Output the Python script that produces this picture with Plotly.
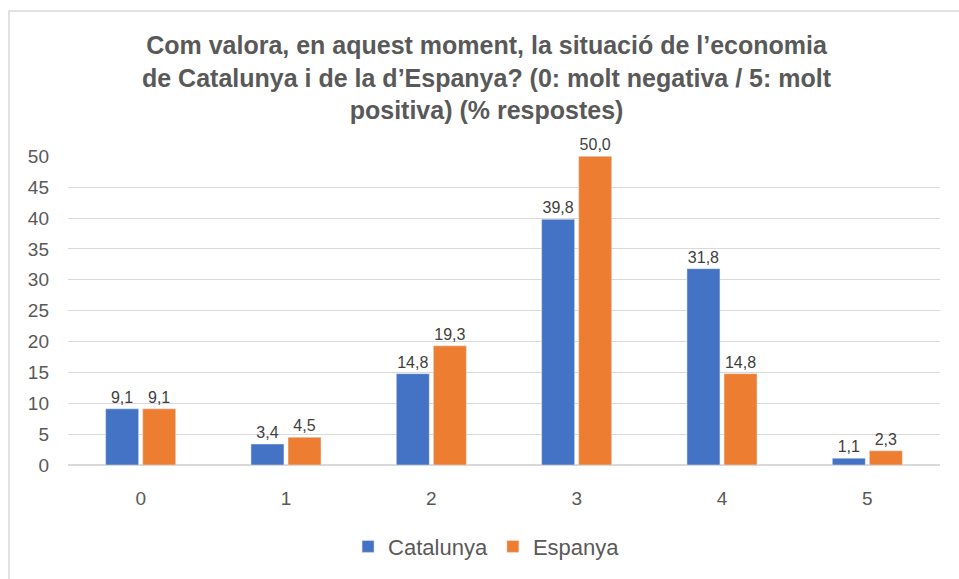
import plotly.graph_objects as go

categories = ["0", "1", "2", "3", "4", "5"]
catalunya = [9.1, 3.4, 14.8, 39.8, 31.8, 1.1]
espanya = [9.1, 4.5, 19.3, 50.0, 14.8, 2.3]
y_ticks = [0, 5, 10, 15, 20, 25, 30, 35, 40, 45, 50]

title = ("<b>Com valora, en aquest moment, la situació de l’economia<br>"
         "de Catalunya i de la d’Espanya? (0: molt negativa / 5: molt<br>"
         "positiva) (% respostes)</b>")

fig = go.Figure()
fig.add_trace(go.Bar(x=categories, y=catalunya, name="Catalunya",
                     marker_color="#4472C4", texttemplate="%{y:.1f}",
                     textposition="outside", cliponaxis=False,
                     textfont=dict(size=16, color="#404040")))
fig.add_trace(go.Bar(x=categories, y=espanya, name="Espanya",
                     marker_color="#ED7D31", texttemplate="%{y:.1f}",
                     textposition="outside", cliponaxis=False,
                     textfont=dict(size=16, color="#404040")))

fig.update_layout(
    width=959, height=579,
    margin=dict(l=68, r=19, t=156, b=112),
    paper_bgcolor="white", plot_bgcolor="white",
    font=dict(family="Liberation Sans, Arial, sans-serif", color="#595959"),
    separators=",.",
    barmode="group", bargap=0.49, bargroupgap=0.11,
    legend=dict(orientation="h", x=0.48, xanchor="center", y=-0.264, yanchor="middle",
                font=dict(size=22, color="#595959"), itemwidth=30),
    showlegend=True,
    shapes=[dict(type="rect", xref="paper", yref="paper",
                 x0=-0.0677, x1=1.03, y0=-0.38, y1=1.469,
                 line=dict(color="#D9D9D9", width=1.5))],
    annotations=[dict(text=title, xref="paper", yref="paper", x=0.4805, y=1.254,
                      xanchor="center", yanchor="middle", showarrow=False,
                      font=dict(size=25, color="#595959"))],
)
fig.update_xaxes(showgrid=False, tickfont=dict(size=19, color="#595959"), ticks="",
                 range=[-0.5, 5.5], ticklabelstandoff=20)
fig.update_yaxes(range=[0, 50.05], tickvals=y_ticks, showgrid=True, gridcolor="#D9D9D9",
                 gridwidth=1, zeroline=True, zerolinecolor="#D9D9D9", zerolinewidth=1.5,
                 tickfont=dict(size=19, color="#595959"), ticks="", ticklabelstandoff=18)

fig.write_html("out.html", config={"displayModeBar": False},
               post_script="document.body.style.margin='0';")
